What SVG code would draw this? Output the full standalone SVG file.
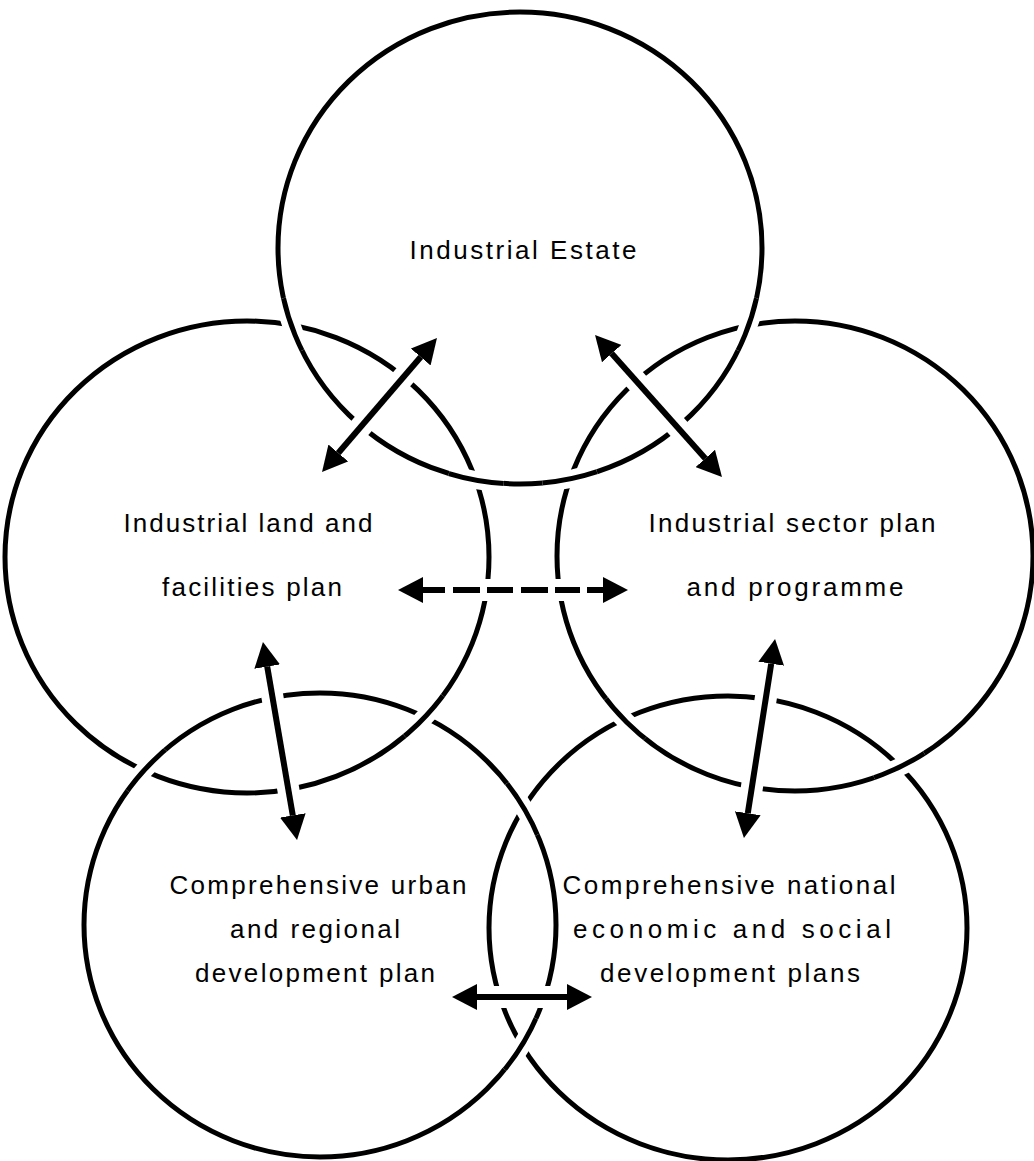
<svg xmlns="http://www.w3.org/2000/svg" xmlns:xlink="http://www.w3.org/1999/xlink" width="1034" height="1161" viewBox="0 0 1034 1161">
  <style>
    .ring { fill: none; stroke: #000; stroke-width: 5; }
    .gap { fill: none; stroke: #fff; stroke-width: 18; }
    .halo { fill: none; stroke: #fff; stroke-width: 22; stroke-linecap: butt; }
    .shaft { fill: none; stroke: #000; stroke-width: 6; stroke-linecap: butt; marker-start: url(#head); marker-end: url(#head); }
    .dashed { stroke-dasharray: 22 8 27 7 26 8 27 7 25 7 16; }
    text { font-family: "Liberation Sans", Arial, sans-serif; font-size: 26px; fill: #000; text-anchor: middle; }
  </style>
  <defs>
    <!-- ring outlines, shared by the nodes and the over/under crossings -->
    <ellipse id="ring-estate" cx="520" cy="248" rx="242" ry="236"/>
    <ellipse id="ring-land" cx="247" cy="557" rx="242" ry="236"/>
    <ellipse id="ring-sector" cx="795" cy="556" rx="238" ry="235"/>
    <ellipse id="ring-urban" cx="320" cy="925" rx="236" ry="232"/>
    <ellipse id="ring-national" cx="728" cy="928" rx="239" ry="232"/>

    <!-- windows around each crossing where the upper ring is redrawn -->
    <clipPath id="x1"><circle cx="291" cy="325" r="28"/></clipPath>
    <clipPath id="x2"><circle cx="476" cy="480" r="28"/></clipPath>
    <clipPath id="x3"><circle cx="749" cy="325" r="28"/></clipPath>
    <clipPath id="x4"><circle cx="570" cy="479" r="28"/></clipPath>
    <clipPath id="x5"><circle cx="146" cy="770" r="28"/></clipPath>
    <clipPath id="x6"><circle cx="425" cy="717" r="28"/></clipPath>
    <clipPath id="x7"><circle cx="625" cy="719" r="28"/></clipPath>
    <clipPath id="x8"><circle cx="900" cy="767" r="28"/></clipPath>
    <clipPath id="x9"><circle cx="524" cy="808" r="30"/></clipPath>
    <clipPath id="x10"><circle cx="522" cy="1045" r="30"/></clipPath>

    <!-- arrowhead, base at the line end, pointing outward -->
    <marker id="head" viewBox="0 0 25 26" refX="0" refY="13" markerWidth="25" markerHeight="26" markerUnits="userSpaceOnUse" orient="auto-start-reverse">
      <path d="M0,0 L25,13 L0,26 Z" fill="#000"/>
    </marker>
  </defs>

  <rect width="1034" height="1161" fill="#fff"/>

  <g id="industrial-estate">
    <use href="#ring-estate" class="ring"/>
    <text x="523" y="259" textLength="227" lengthAdjust="spacing">Industrial Estate</text>
  </g>

  <g id="land-facilities-plan">
    <use href="#ring-land" class="ring"/>
    <text x="248" y="532" textLength="249" lengthAdjust="spacing">Industrial land and</text>
    <text x="252" y="596" textLength="180" lengthAdjust="spacing">facilities plan</text>
  </g>

  <g id="sector-plan">
    <use href="#ring-sector" class="ring"/>
    <text x="792" y="532" textLength="287" lengthAdjust="spacing">Industrial sector plan</text>
    <text x="795" y="596" textLength="217" lengthAdjust="spacing">and programme</text>
  </g>

  <g id="urban-regional-plan">
    <use href="#ring-urban" class="ring"/>
    <text x="318" y="894" textLength="297" lengthAdjust="spacing">Comprehensive urban</text>
    <text x="315" y="938" textLength="170" lengthAdjust="spacing">and regional</text>
    <text x="315" y="982" textLength="240" lengthAdjust="spacing">development plan</text>
  </g>

  <g id="national-plans">
    <use href="#ring-national" class="ring"/>
    <text x="729" y="894" textLength="333" lengthAdjust="spacing">Comprehensive national</text>
    <text x="732" y="938" textLength="318" lengthAdjust="spacing">economic and social</text>
    <text x="730" y="982" textLength="260" lengthAdjust="spacing">development plans</text>
  </g>

  <!-- over/under weave: the upper ring is redrawn on a white band -->
  <g id="weave">
    <g clip-path="url(#x1)"><use href="#ring-estate" class="gap"/><use href="#ring-estate" class="ring"/></g>
    <g clip-path="url(#x2)"><use href="#ring-estate" class="gap"/><use href="#ring-estate" class="ring"/></g>
    <g clip-path="url(#x3)"><use href="#ring-estate" class="gap"/><use href="#ring-estate" class="ring"/></g>
    <g clip-path="url(#x4)"><use href="#ring-estate" class="gap"/><use href="#ring-estate" class="ring"/></g>
    <g clip-path="url(#x5)"><use href="#ring-urban" class="gap"/><use href="#ring-urban" class="ring"/></g>
    <g clip-path="url(#x6)"><use href="#ring-land" class="gap"/><use href="#ring-land" class="ring"/></g>
    <g clip-path="url(#x7)"><use href="#ring-sector" class="gap"/><use href="#ring-sector" class="ring"/></g>
    <g clip-path="url(#x8)"><use href="#ring-sector" class="gap"/><use href="#ring-sector" class="ring"/></g>
    <g clip-path="url(#x9)"><use href="#ring-urban" class="gap"/><use href="#ring-urban" class="ring"/></g>
    <g clip-path="url(#x10)"><use href="#ring-urban" class="gap"/><use href="#ring-urban" class="ring"/></g>
  </g>

  <!-- two-way links; each is laid on a white band that breaks the rings it crosses -->
  <g id="connectors">
    <line class="halo" x1="322" y1="472" x2="437" y2="338"/>
    <line class="shaft" x1="338.3" y1="453" x2="420.7" y2="357"/>

    <line class="halo" x1="595" y1="335" x2="722" y2="477"/>
    <line class="shaft" x1="611.7" y1="353.6" x2="705.3" y2="458.4"/>

    <line class="halo" x1="398" y1="590" x2="628" y2="590"/>
    <line class="shaft dashed" x1="423" y1="590" x2="603" y2="590"/>

    <line class="halo" x1="263" y1="642" x2="297" y2="840"/>
    <line class="shaft" x1="267.2" y1="666.6" x2="292.8" y2="815.4"/>

    <line class="halo" x1="775" y1="639" x2="744" y2="838"/>
    <line class="shaft" x1="771.2" y1="663.7" x2="747.8" y2="813.3"/>

    <line class="halo" x1="452" y1="997" x2="592" y2="997"/>
    <line class="shaft" x1="477" y1="997" x2="567" y2="997"/>
  </g>
</svg>
